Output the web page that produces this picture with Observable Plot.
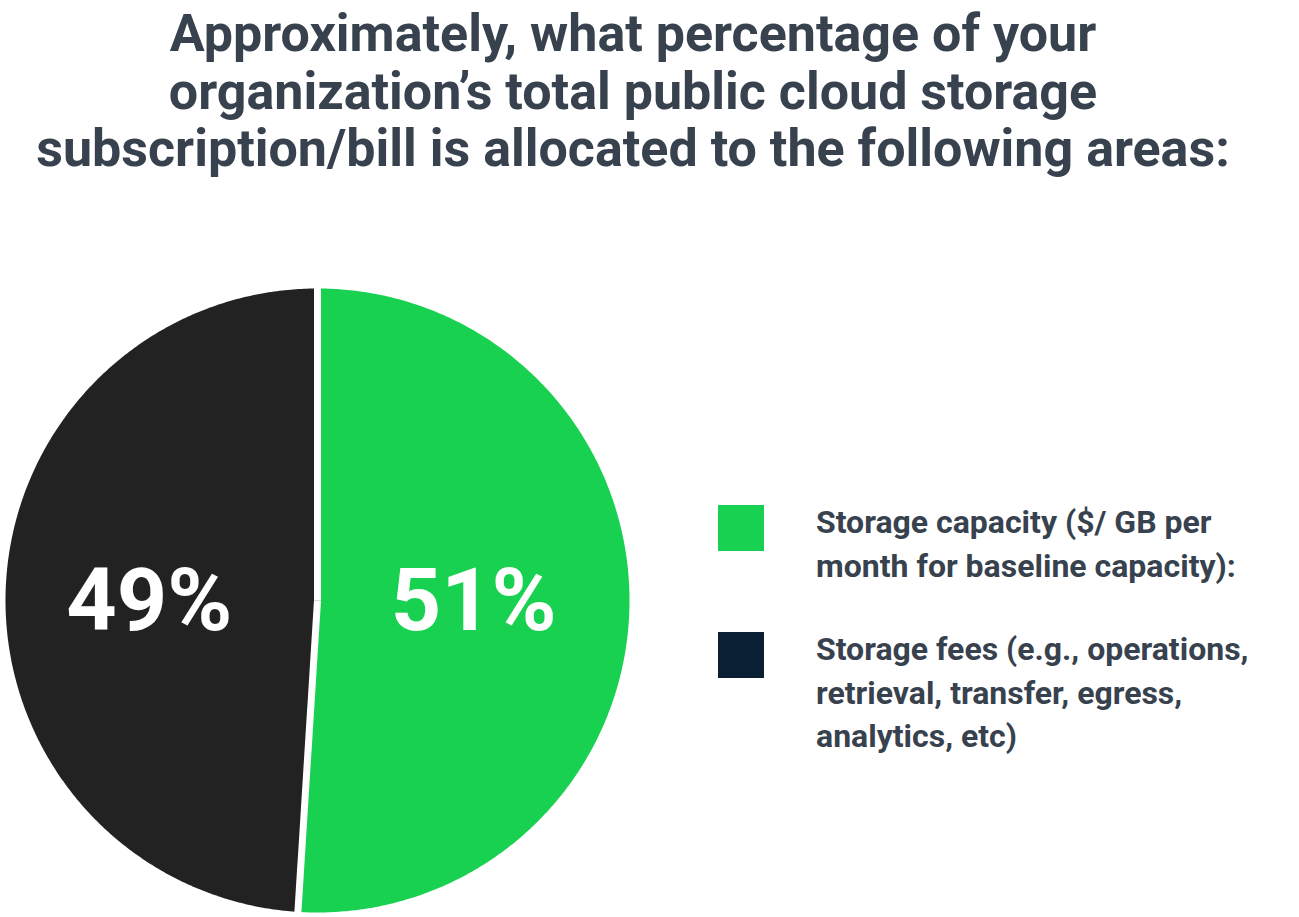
<!DOCTYPE html>
<html><head><meta charset="utf-8">
<script src="https://cdn.jsdelivr.net/npm/d3@7"></script>
<script src="https://cdn.jsdelivr.net/npm/@observablehq/plot@0.6"></script>
<style>
body{margin:0;background:#fff;width:1299px;height:917px;position:relative;overflow:hidden;font-family:Roboto,"Open Sans",sans-serif;}
#title{position:absolute;left:0;top:5px;width:1266px;text-align:center;font-size:52px;font-weight:700;line-height:57.5px;color:#37424e;}
#chart{position:absolute;left:0;top:283px;}
.sw{position:absolute;left:718px;width:46px;height:46px;}
.lt{position:absolute;left:816px;font-size:32px;font-weight:700;line-height:43.5px;color:#37424e;white-space:nowrap;}
</style></head>
<body>
<div id="title"></div>
<div id="chart"></div>
<div id="legend"></div>
<script>
const titleLines = ["Approximately, what percentage of your", "organization’s total public cloud storage", "subscription/bill is allocated to the following areas:"];
const categories = ["Storage capacity", "Storage fees"];
const values = [51, 49];
const valueLabels = ["51%", "49%"];
const sliceColors = ["#19d150", "#222222"];
const legendColors = ["#19d150", "#0b1f33"];
const legendLines = [
  ["Storage capacity ($/ GB per", "month for baseline capacity):"],
  ["Storage fees (e.g., operations,", "retrieval, transfer, egress,", "analytics, etc)"]
];

document.getElementById("title").innerHTML = titleLines.join("<br>");

const rows = categories.map((c, i) => ({cat: c, value: values[i], label: valueLabels[i]}));
const arcs = d3.pie().sort(null).value(d => d.value)(rows);

// polygon outline of each slice, in unit-circle data space (angle 0 = top, clockwise)
const pts = [];
for (const a of arcs) {
  pts.push({cat: a.data.cat, x: 0, y: 0});
  const n = Math.ceil((a.endAngle - a.startAngle) / (Math.PI / 360));
  for (let k = 0; k <= n; k++) {
    const t = a.startAngle + (a.endAngle - a.startAngle) * k / n;
    pts.push({cat: a.data.cat, x: Math.sin(t), y: Math.cos(t)});
  }
  pts.push({cat: a.data.cat, x: 0, y: 0});
}
const bounds = arcs.map(a => ({x: 1.03 * Math.sin(a.startAngle), y: 1.03 * Math.cos(a.startAngle)}));
const labelRows = arcs.map(a => {
  const m = (a.startAngle + a.endAngle) / 2;
  return {x: 0.52 * Math.sin(m), y: 0, label: a.data.label};
});

const chart = Plot.plot({
  width: 634, height: 634, margin: 5,
  x: {domain: [-1, 1], axis: null},
  y: {domain: [-1, 1], axis: null},
  color: {domain: categories, range: sliceColors},
  style: {fontFamily: "Roboto, sans-serif", background: "transparent"},
  marks: [
    Plot.line(pts, {x: "x", y: "y", z: "cat", fill: "cat", stroke: null, curve: "linear"}),
    Plot.link(bounds, {x1: 0, y1: 0, x2: "x", y2: "y", stroke: "white", strokeWidth: 7}),
    Plot.text(labelRows, {x: "x", y: "y", text: "label", fill: "white", fontSize: 88, fontWeight: 700, dx: -6, dy: 1})
  ]
});
document.getElementById("chart").appendChild(chart);

const legendTops = [501, 628];
const lg = document.getElementById("legend");
legendLines.forEach((lines, i) => {
  const sw = document.createElement("div");
  sw.className = "sw";
  sw.style.top = (legendTops[i] + 4) + "px";
  sw.style.background = legendColors[i];
  lg.appendChild(sw);
  const t = document.createElement("div");
  t.className = "lt";
  t.style.top = legendTops[i] + "px";
  t.innerHTML = lines.join("<br>");
  lg.appendChild(t);
});
</script>
</body></html>
